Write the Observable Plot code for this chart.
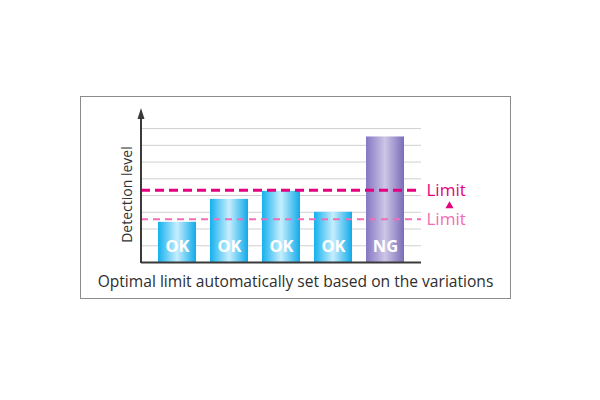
<!DOCTYPE html>
<html><head><meta charset="utf-8">
<script src="https://cdn.jsdelivr.net/npm/d3@7"></script>
<script src="https://cdn.jsdelivr.net/npm/@observablehq/plot@0.6"></script>
<style>
body{margin:0;background:#fff;font-family:"Open Sans",sans-serif}
#box{position:absolute;left:80px;top:96px;width:431px;height:203px;box-sizing:border-box;border:1px solid #8c8c8c;background:#fff}
#chart{position:absolute;left:0;top:0}
#caption{position:absolute;left:0;right:0;top:173px;text-align:center;font-size:15.6px;color:#2e2e2e;font-family:"Open Sans",sans-serif;white-space:nowrap}
</style></head><body>
<div id="box"><div id="chart"></div><div id="caption"></div></div>
<script>
const categories = ["1", "2", "3", "4", "5"];
const levels = [2.4, 3.77, 4.25, 3.0, 7.5];
const results = ["OK", "OK", "OK", "OK", "NG"];
const gridLevels = [1, 2, 3, 4, 5, 6, 7, 8];
const limitNew = 4.31;
const limitOld = 2.58;
const limitLabel = "Limit";
const yAxisLabel = "Detection level";
const captionText = "Optimal limit automatically set based on the variations";
const yMax = 9.2;

const data = categories.map((c, i) => ({cat: c, level: levels[i], result: results[i]}));
const magenta = "#e4007f";
const pink = "#f36cb5";

const plot = Plot.plot({
  width: 429,
  height: 175,
  marginLeft: 60,
  marginRight: 89,
  marginTop: 11,
  marginBottom: 10,
  style: {fontFamily: "'Open Sans', sans-serif", background: "transparent", overflow: "visible"},
  x: {domain: categories, paddingInner: 0.275, paddingOuter: 0.31, axis: null},
  y: {domain: [0, yMax], axis: null},
  marks: [
    Plot.ruleY(gridLevels, {stroke: "#d0d0d0", strokeWidth: 1}),
    Plot.barY(data.filter(d => d.result === "OK"), {x: "cat", y: "level", fill: "url(#gradOK)"}),
    Plot.barY(data.filter(d => d.result === "NG"), {x: "cat", y: "level", fill: "url(#gradNG)"}),
    Plot.text(data, {x: "cat", y: () => 0, text: "result", dy: -16, fill: "white", fontWeight: "bold", fontSize: 16.5}),
    Plot.ruleY([limitOld], {stroke: pink, strokeWidth: 2, strokeDasharray: "7,5"}),
    Plot.ruleY([limitNew], {stroke: magenta, strokeWidth: 3, strokeDasharray: "9,5"}),
    Plot.ruleY([0], {stroke: "#3a3a3a", strokeWidth: 2}),
    Plot.text([limitNew], {y: d => d, text: () => limitLabel, frameAnchor: "right", textAnchor: "start", dx: 5, fill: magenta, fontSize: 17}),
    Plot.text([limitOld], {y: d => d, text: () => limitLabel, frameAnchor: "right", textAnchor: "start", dx: 5, fill: pink, fontSize: 17}),
    Plot.dot([(limitNew + limitOld) / 2], {y: d => d, frameAnchor: "right", dx: 28, dy: 1, symbol: "triangle", r: 3, fill: magenta, stroke: "none"}),
    Plot.text([yAxisLabel], {text: d => d, y: () => 4.06, frameAnchor: "left", textAnchor: "middle", dx: -14, rotate: -90, fill: "#333", fontSize: 14})
  ]
});

const svg = d3.select(plot);
const defs = svg.insert("defs", ":first-child");
function grad(id, edgeL, mid, edgeR) {
  const g = defs.append("linearGradient").attr("id", id).attr("x1", "0").attr("x2", "1").attr("y1", "0").attr("y2", "0");
  g.append("stop").attr("offset", "0").attr("stop-color", edgeL);
  g.append("stop").attr("offset", "0.5").attr("stop-color", mid);
  g.append("stop").attr("offset", "1").attr("stop-color", edgeR);
}
grad("gradOK", "#14b0ee", "#c6eefd", "#10aaea");
grad("gradNG", "#8676c2", "#cdc6e6", "#7c6cb9");

// y axis line with arrow, positioned from the plot's own scales
const ys = plot.scale("y"), xs = plot.scale("x");
const ax = xs.range[0];
const y0 = ys.apply(0), yTop = ys.apply(yMax);
svg.append("line").attr("x1", ax).attr("x2", ax).attr("y1", y0 + 1).attr("y2", yTop + 8)
  .attr("stroke", "#3a3a3a").attr("stroke-width", 2);
svg.append("path").attr("d", `M${ax},${yTop} L${ax - 3.5},${yTop + 11} L${ax + 3.5},${yTop + 11} Z`).attr("fill", "#3a3a3a");

document.getElementById("chart").appendChild(plot);
document.getElementById("caption").textContent = captionText;
</script>
</body></html>
